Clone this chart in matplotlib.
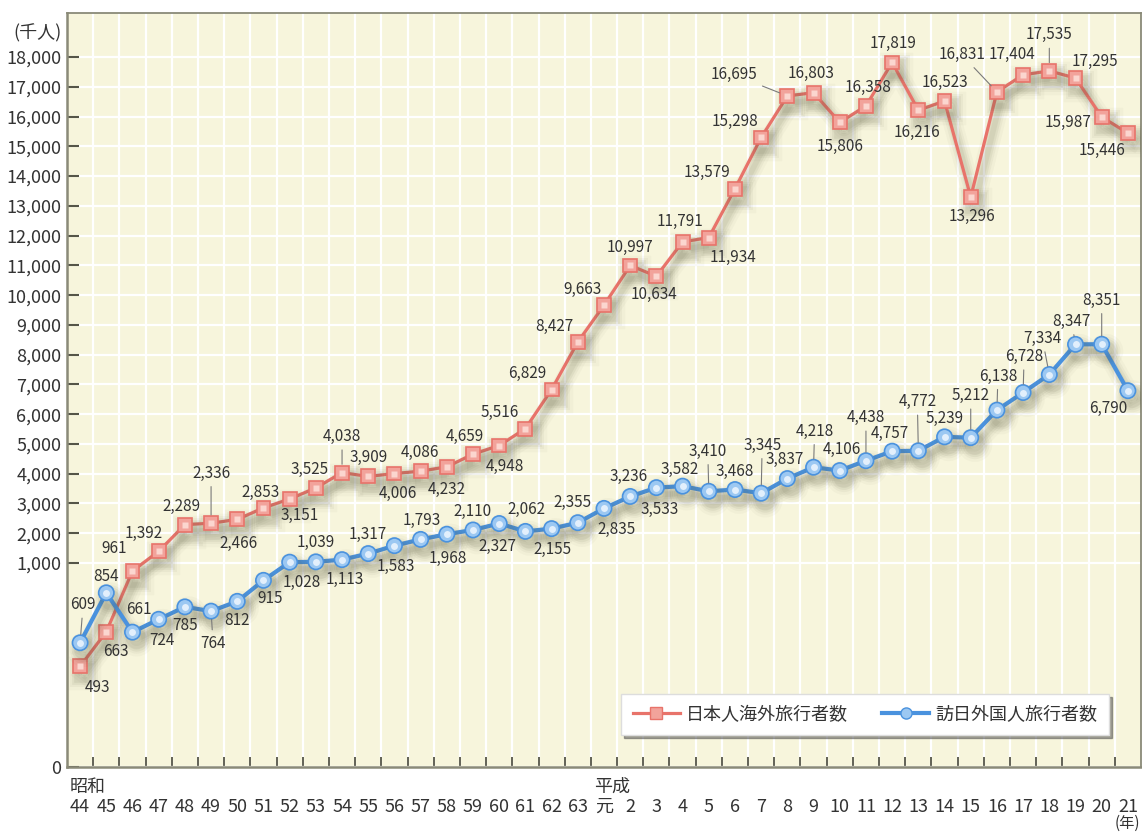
import numpy as np
import matplotlib
matplotlib.use("Agg")
import matplotlib.pyplot as plt
import matplotlib.patheffects as pe
from matplotlib.lines import Line2D

plt.rcParams['font.family'] = ['Noto Sans CJK JP', 'DejaVu Sans']

# ---------------- data ----------------
years = ['44', '45', '46', '47', '48', '49', '50', '51', '52', '53', '54', '55',
         '56', '57', '58', '59', '60', '61', '62', '63', '元', '2', '3', '4', '5',
         '6', '7', '8', '9', '10', '11', '12', '13', '14', '15', '16', '17', '18',
         '19', '20', '21']
eras = {0: '昭和', 20: '平成'}

outbound = [493, 663, 961, 1392, 2289, 2336, 2466, 2853, 3151, 3525, 4038, 3909,
            4006, 4086, 4232, 4659, 4948, 5516, 6829, 8427, 9663, 10997, 10634,
            11791, 11934, 13579, 15298, 16695, 16803, 15806, 16358, 17819, 16216,
            16523, 13296, 16831, 17404, 17535, 17295, 15987, 15446]
inbound = [609, 854, 661, 724, 785, 764, 812, 915, 1028, 1039, 1113, 1317, 1583,
           1793, 1968, 2110, 2327, 2062, 2155, 2355, 2835, 3236, 3533, 3582, 3410,
           3468, 3345, 3837, 4218, 4106, 4438, 4757, 4772, 5239, 5212, 6138, 6728,
           7334, 8347, 8351, 6790]

series_names = ['日本人海外旅行者数', '訪日外国人旅行者数']
yticks = [0] + list(range(1000, 19000, 1000))

# ------------- label placement (pixels: dx right, dy down, leader flag) -------------
red_off = [(17, 21, 0), (10, 20, 0), (-18, -22, 0), (-15, -18, 0), (-3, -18, 0),
           (0, -50, 1), (1, 24, 0), (-3, -15, 0), (10, 16, 0), (-6, -18, 0),
           (0, -36, 1), (0, -19, 0), (3, 20, 0), (-1, -19, 0), (0, 23, 0),
           (-8, -18, 0), (6, 21, 0), (-26, -16, 0), (-24, -16, 0), (-23, -16, 0),
           (-22, -16, 0), (0, -18, 0), (-2, 18, 0), (-3, -20, 0), (24, 20, 0),
           (-28, -16, 0), (-26, -16, 0), (-53, -21, 1), (-2, -19, 0), (0, 24, 0),
           (2, -18, 0), (1, -19, 0), (-1, 22, 0), (0, -19, 0), (1, 19, 0),
           (-35, -37, 1), (-11, -20, 0), (0, -36, 1), (19, -17, 0), (-34, 5, 0),
           (-26, 17, 0)]
blue_off = [(3, -38, 1), (0, -16, 0), (6, -23, 0), (3, 21, 0), (0, 19, 0),
            (2, 32, 1), (0, 19, 0), (7, 18, 0), (12, 20, 0), (0, -19, 0),
            (3, 20, 0), (0, -19, 0), (1, 21, 0), (1, -19, 0), (1, 24, 0),
            (-1, -18, 0), (-2, 23, 0), (1, -22, 0), (1, 21, 0), (-5, -20, 0),
            (13, 21, 0), (-2, -20, 0), (3, 22, 0), (-3, -17, 0), (-1, -40, 1),
            (0, -18, 0), (1, -48, 1), (-3, -19, 0), (1, -36, 1), (2, -21, 0),
            (0, -43, 1), (-2, -18, 0), (-1, -49, 1), (0, -18, 0), (0, -42, 1),
            (1, -34, 1), (1, -36, 1), (-7, -36, 1), (-4, -23, 1), (0, -44, 1),
            (-20, 18, 0)]

# ---------------- styles ----------------
BG = '#F7F5DC'
RED_LINE = '#E8736A'
RED_FACE = '#F2A39B'
RED_INNER = '#FBD6CF'
BLUE_LINE = '#4A92DE'
BLUE_FACE = '#9CC8F2'
BLUE_INNER = '#E2EFFC'
TXT = '#333333'
SPINE = '#8A8A78'

K = 29.76 / 204.0


def fwd(v):
    v = np.asarray(v, dtype=float)
    return np.where(v <= 1000, v, 1000 + (v - 1000) * K)


def inv(t):
    t = np.asarray(t, dtype=float)
    return np.where(t <= 1000, t, 1000 + (t - 1000) / K)


W, H = 1142, 832
fig = plt.figure(figsize=(W / 100, H / 100), dpi=100)
L, R, T, B = 67, 1141, 13, 767
ax = fig.add_axes([L / W, 1 - B / H, (R - L) / W, (B - T) / H])
ax.set_facecolor(BG)
ax.set_yscale('function', functions=(fwd, inv))
top_val = float(inv((B - T) / 204.0 * 1000))
ax.set_ylim(0, top_val)
n = len(years)
x = np.arange(n)
ax.set_xlim(-0.5, n - 0.5)

# grid
ax.set_yticks(yticks)
ax.set_yticklabels(['0'] + [f'{v:,}' for v in yticks[1:]], fontsize=13, color=TXT)
ax.set_xticks(x)
ax.set_xticklabels([])
ax.set_xticks(x[:-1] + 0.5, minor=True)
ax.tick_params(axis='x', which='major', length=0)
ax.tick_params(axis='x', which='minor', direction='in', length=7.5, width=1.3, color='#555548')
ax.tick_params(axis='y', which='major', direction='in', length=8.6, width=1.5, color='#555548', pad=4)
ax.yaxis.set_minor_locator(matplotlib.ticker.NullLocator())
ax.grid(axis='y', which='major', color='white', lw=1.6)
ax.grid(axis='x', which='minor', color='white', lw=1.6)
ax.set_axisbelow(True)
for s in ['left', 'bottom']:
    ax.spines[s].set_color(SPINE)
    ax.spines[s].set_linewidth(1.8)
for s in ['top', 'right']:
    ax.spines[s].set_color(SPINE)
    ax.spines[s].set_linewidth(1.3)


def shadow_effects():
    effs = []
    for lw, a in [(14, 0.035), (10, 0.05), (7, 0.07), (4, 0.08)]:
        effs.append(pe.SimpleLineShadow(offset=(3, -5), shadow_color='#5a5a40', alpha=a, rho=1, linewidth=lw))
    effs.append(pe.Normal())
    return effs


# lines
ax.plot(x, outbound, color=RED_LINE, lw=2.3, marker='s', ms=10, mfc=RED_FACE,
        mec=RED_LINE, mew=1.2, zorder=4, path_effects=shadow_effects())
ax.plot(x, outbound, ls='none', marker='s', ms=4.5, mfc=RED_INNER, mec='none', zorder=5)
ax.plot(x, inbound, color=BLUE_LINE, lw=3.0, marker='o', ms=11, mfc=BLUE_FACE,
        mec=BLUE_LINE, mew=1.2, zorder=4, path_effects=shadow_effects())
ax.plot(x, inbound, ls='none', marker='o', ms=5, mfc=BLUE_INNER, mec='none', zorder=5)


def label(vals, offs):
    for i, (v, (dx, dy, lead)) in enumerate(zip(vals, offs)):
        kw = {}
        if lead:
            kw['arrowprops'] = dict(arrowstyle='-', color='#7a7a7a', lw=0.8,
                                    shrinkA=1.5, shrinkB=6)
        ax.annotate(f'{v:,}', xy=(i, v), xytext=(dx, -dy), textcoords='offset pixels',
                    ha='center', va='center', fontsize=11, color=TXT, zorder=6, **kw)


label(outbound, red_off)
label(inbound, blue_off)

# x labels
for i, yl in enumerate(years):
    ax.annotate(yl, xy=(i, 0), xycoords=('data', 'axes fraction'), xytext=(0, -40),
                textcoords='offset pixels', ha='center', va='center', fontsize=13,
                color=TXT, annotation_clip=False)
for i, e in eras.items():
    ax.annotate(e, xy=(i, 0), xycoords=('data', 'axes fraction'), xytext=(-10, -20),
                textcoords='offset pixels', ha='left', va='center', fontsize=13,
                color=TXT, annotation_clip=False)

fig.text(62 / W, 1 - 33 / H, '(千人)', ha='right', va='center', fontsize=13, color=TXT)
fig.text(1140 / W, 1 - 823 / H, '(年)', ha='right', va='center', fontsize=11, color=TXT)

# legend
h1 = Line2D([], [], color=RED_LINE, lw=2.3, marker='s', ms=8, mfc=RED_FACE, mec=RED_LINE)
h2 = Line2D([], [], color=BLUE_LINE, lw=3.0, marker='o', ms=8, mfc=BLUE_FACE, mec=BLUE_LINE)
leg = ax.legend([h1, h2], series_names, loc='lower right', bbox_to_anchor=(0.979, 0.03),
                ncol=2, fontsize=13, frameon=True, fancybox=False, shadow=True,
                handlelength=2.6, columnspacing=1.9, handletextpad=0.35,
                borderpad=0.65, edgecolor='#dddddd', framealpha=1)
leg.get_frame().set_facecolor('white')
for t in leg.get_texts():
    t.set_color(TXT)
leg.set_zorder(7)

fig.savefig('out.png', dpi=100)
